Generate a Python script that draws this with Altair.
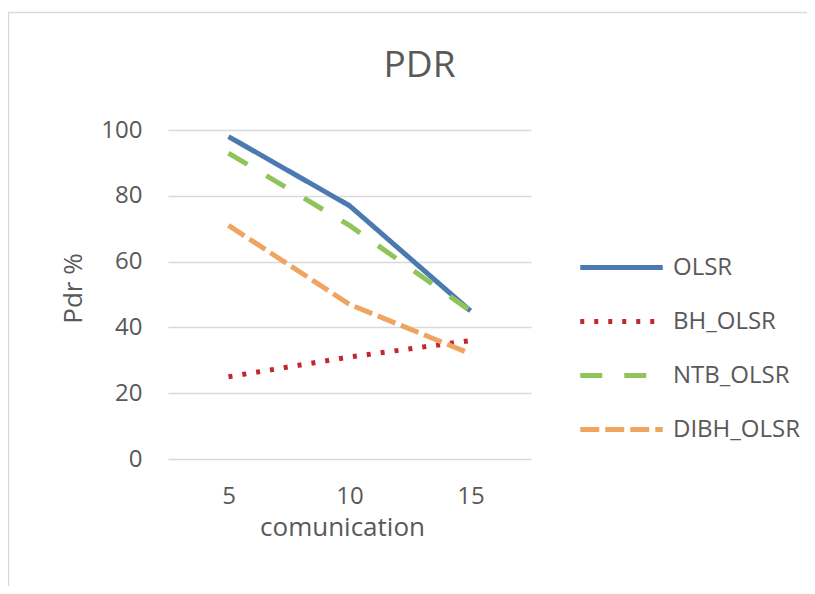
import altair as alt
import pandas as pd

categories = [5, 10, 15]
series_names = ["OLSR", "BH_OLSR", "NTB_OLSR", "DIBH_OLSR"]
olsr = [98, 77, 45]
bh_olsr = [25, 31, 36]
ntb_olsr = [93, 71, 45]
dibh_olsr = [71, 47, 32]
y_ticks = [0, 20, 40, 60, 80, 100]

colors = ["#4a7ab0", "#c0282d", "#8fc45a", "#f0a462"]
dashes = [[1, 0], [4, 10], [22, 22], [19, 6]]

rows = []
for name, vals in zip(series_names, [olsr, bh_olsr, ntb_olsr, dibh_olsr]):
    for c, v in zip(categories, vals):
        rows.append({"comm": c, "pdr": v, "series": name})
df = pd.DataFrame(rows)

FONT = "Open Sans"
GRAY = "#595959"

legend = alt.Legend(
    title=None,
    orient="none",
    legendX=437,
    legendY=121,
    symbolType="M-3,0H3",
    symbolSize=756,
    symbolStrokeWidth=5,
    labelFont=FONT,
    labelFontSize=24,
    labelColor=GRAY,
    labelOffset=35,
    rowPadding=25,
    padding=0,
)

lines = alt.Chart(df).mark_line(strokeWidth=5, strokeJoin="round").encode(
    x=alt.X(
        "comm:O",
        sort=categories,
        axis=alt.Axis(
            title="comunication",
            labelAngle=0,
            labelPadding=25,
            labelFontSize=24,
            titleFontSize=26,
            titleBaseline="alphabetic",
            titleX=174,
            titleY=76,
            titleAlign="center",
            ticks=False,
            domain=False,
        ),
    ),
    y=alt.Y(
        "pdr:Q",
        scale=alt.Scale(domain=[0, 100], nice=False),
        axis=alt.Axis(
            title="Pdr %",
            values=y_ticks,
            labelPadding=26,
            labelFontSize=24,
            titleFontSize=26,
            titleAngle=270,
            titleX=-95,
            titleY=158,
            titleAlign="center",
            titleBaseline="middle",
            ticks=False,
            domain=False,
            grid=True,
        ),
    ),
    color=alt.Color(
        "series:N",
        scale=alt.Scale(domain=series_names, range=colors),
        sort=series_names,
        legend=legend,
    ),
    strokeDash=alt.StrokeDash(
        "series:N",
        scale=alt.Scale(domain=series_names, range=dashes),
        sort=series_names,
        legend=legend,
    ),
)

border = alt.Chart(pd.DataFrame({"a": [0]})).mark_rect(
    fillOpacity=0, stroke="#d9d9d9", strokeWidth=1.5
).encode(
    x=alt.value(-159.5),
    x2=alt.value(900),
    y=alt.value(-117.5),
    y2=alt.value(900),
)

chart = alt.layer(border, lines).properties(
    width=363,
    height=329,
    padding={"left": 160, "top": 122, "right": 276, "bottom": 127},
    autosize=alt.AutoSizeParams(type="none"),
    title=alt.TitleParams(
        "PDR",
        font=FONT,
        fontSize=37,
        fontWeight="normal",
        color=GRAY,
        anchor="middle",
        dx=70,
        dy=102,
        offset=0,
        baseline="alphabetic",
    ),
).configure_view(stroke=None).configure_axis(
    labelFont=FONT,
    titleFont=FONT,
    labelColor=GRAY,
    titleColor=GRAY,
    titleFontWeight="normal",
    gridColor="#d9d9d9",
    gridWidth=1.3,
)

chart.save("out.html", embed_options={"renderer": "svg", "actions": False})
